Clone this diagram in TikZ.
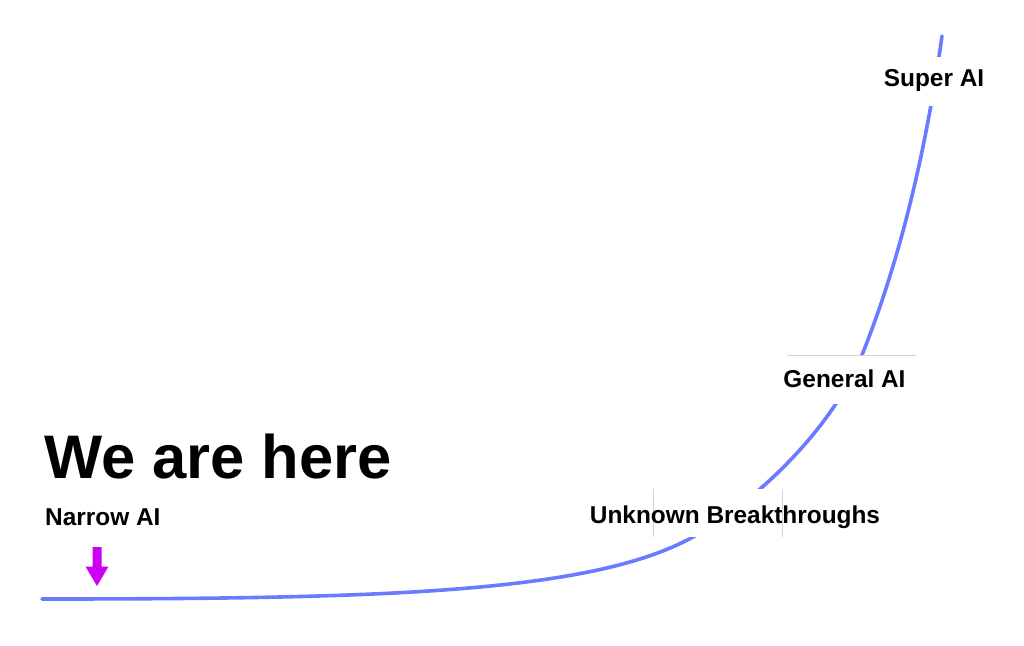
\documentclass[tikz,border=0pt]{standalone}
\usepackage{fontspec}
\setmainfont{Liberation Sans}
\definecolor{curveblue}{HTML}{6A7BFF}
\definecolor{arrowmag}{HTML}{CC00F5}
\definecolor{boxedge}{HTML}{D4D4D4}
\begin{document}
\begin{tikzpicture}[x=1pt,y=1pt,
  lbl/.style={font=\fontsize{24.4}{28}\selectfont\bfseries, text=black, inner sep=0pt},
  whitebox/.style={fill=white, draw=none},
  curveline/.style={curveblue, line width=3.6pt, line cap=round}]
\useasboundingbox[fill=white] (0,0) rectangle (1024,-645);
% growth curve
\coordinate (c0) at (42,-599);
\coordinate (c1) at (693,-537);
\coordinate (c2) at (862,-355);
\coordinate (c3) at (942,-36);
\draw[curveline] (c0) .. controls (392,-599) and (593,-592) .. (c1)
  .. controls (753,-504) and (832,-430) .. (c2)
  .. controls (896.2,-269.5) and (923.7,-165.8) .. (c3);
% white label boxes
\fill[whitebox] (787,-355) rectangle (916,-404);
\fill[whitebox] (872,-57) rectangle (1000,-106);
\fill[whitebox] (590,-488.5) rectangle (880,-537);
% faint box edges
\draw[boxedge, line width=0.6pt] (787,-355) -- (916,-355);
\draw[boxedge, line width=0.6pt] (653,-489) -- (653,-537);
\draw[boxedge, line width=0.6pt] (782,-489) -- (782,-537);
% labels
\node[lbl, anchor=base] (general) at (844.5,-387) {General AI};
\node[lbl, anchor=base] (super) at (934,-86) {Super AI};
\node[lbl, anchor=base] (unknown) at (735,-523) {Unknown Breakthroughs};
% left texts
\node[font=\fontsize{61.5}{70}\selectfont\bfseries, inner sep=0pt, anchor=base west] (here) at (44,-478) {We are here};
\node[lbl, anchor=base west] (narrow) at (45,-525) {Narrow AI};
% marker arrow
\fill[arrowmag] (92.5,-547) -- (101.5,-547) -- (101.5,-566.5) -- (108.5,-566.5)
  -- (97,-586) -- (85.5,-566.5) -- (92.5,-566.5) -- cycle;
\end{tikzpicture}
\end{document}
